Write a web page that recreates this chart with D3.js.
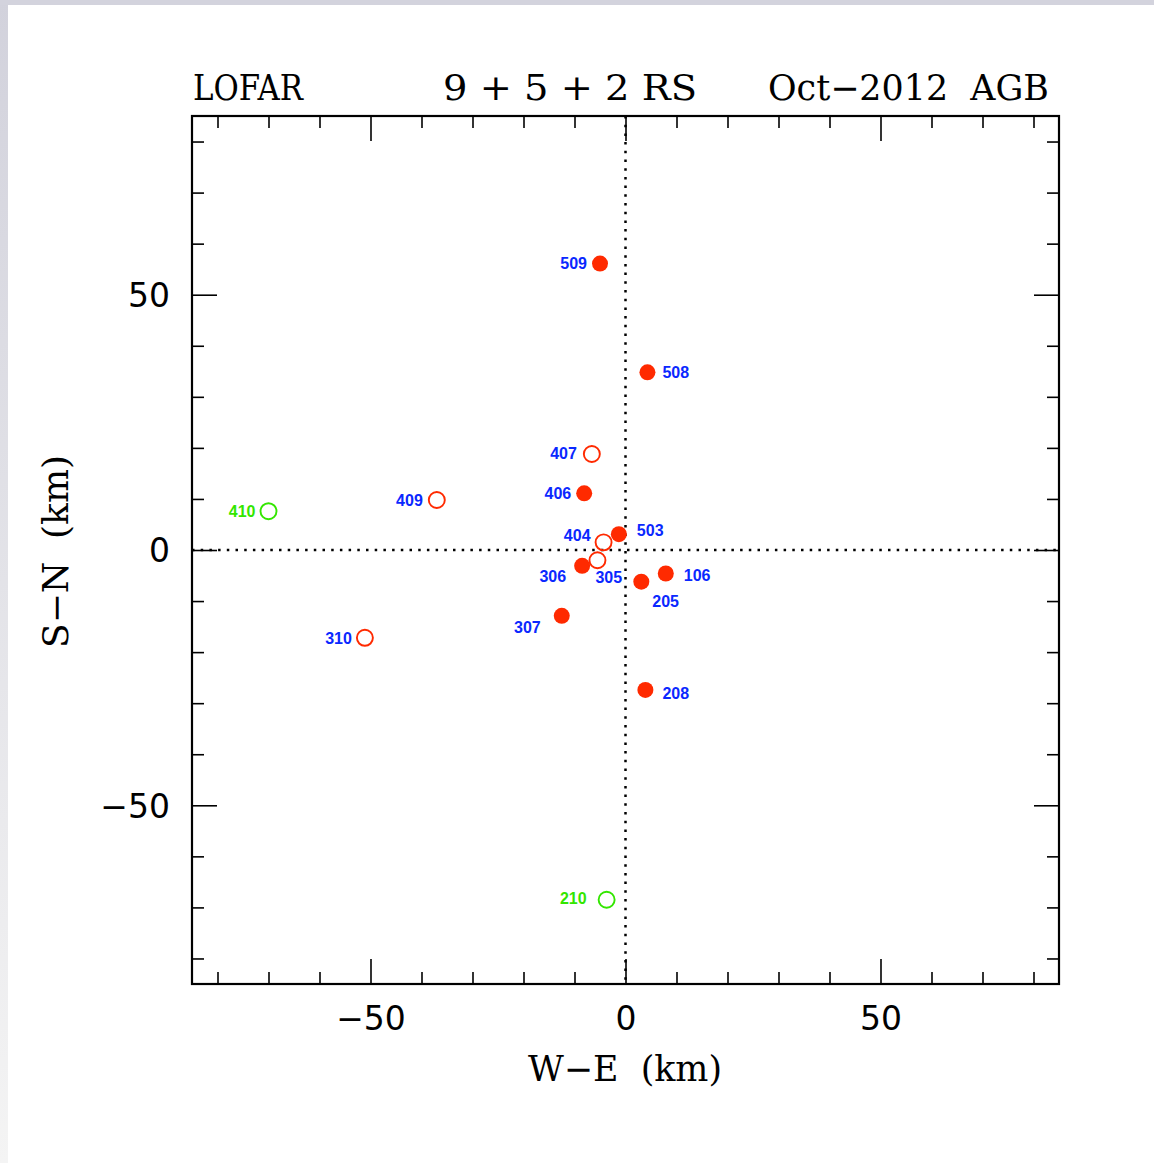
<!DOCTYPE html>
<html>
<head>
<meta charset="utf-8">
<script src="https://cdn.jsdelivr.net/npm/d3@7"></script>
<style>
  html, body { margin: 0; padding: 0; background: #fff; }
  svg { display: block; }
</style>
</head>
<body>
<svg id="chart"></svg>
<script>
// station data (km from the LOFAR core)
var stations = ['509', '508', '407', '406', '409', '410', '503', '404', '305', '306', '205', '106', '307', '310', '208', '210'];
var weKm = [-5.0, 4.3, -6.6, -8.1, -37.0, -70.0, -1.3, -4.3, -5.5, -8.5, 3.1, 7.9, -12.5, -51.1, 3.9, -3.7];
var snKm = [56.1, 34.8, 18.8, 11.1, 9.8, 7.6, 3.1, 1.5, -2.0, -3.1, -6.2, -4.6, -12.9, -17.2, -27.4, -68.5];
// 'done' = filled red, 'open' = open red, 'new' = open green
var stationKind = ['done', 'done', 'open', 'done', 'open', 'new', 'done', 'open', 'open', 'done', 'done', 'done', 'done', 'open', 'done', 'new'];

var titleParts = ['LOFAR', '9 + 5 + 2 RS', 'Oct\u22122012  AGB'];
var majorTicks = [-50, 0, 50];
var minorTicks = [-80, -70, -60, -40, -30, -20, -10, 10, 20, 30, 40, 60, 70, 80];

var W = 1154, H = 1163;
var box = {left: 192, right: 1059, top: 116, bottom: 984};

var svg = d3.select('#chart')
	.attr('width', W)
	.attr('height', H);

// screenshot frame
svg.append('rect').attr('x', 0).attr('y', 0).attr('width', W).attr('height', H).attr('fill', '#fff');
var grad = svg.append('defs').append('linearGradient')
	.attr('id', 'edge').attr('x1', 0).attr('y1', 0).attr('x2', 0).attr('y2', 1);
grad.append('stop').attr('offset', '0%').attr('stop-color', '#d2d2dc');
grad.append('stop').attr('offset', '100%').attr('stop-color', '#f4f4f4');
svg.append('rect').attr('x', 0).attr('y', 0).attr('width', 8).attr('height', H).attr('fill', 'url(#edge)');
svg.append('rect').attr('x', 0).attr('y', 0).attr('width', W).attr('height', 5).attr('fill', '#d3d3dd');

var x = d3.scaleLinear().domain([-85, 85]).range([box.left, box.right]);
var y = d3.scaleLinear().domain([-85, 85]).range([box.bottom, box.top]);

// dotted zero lines
svg.append('line')
	.attr('x1', x(0)).attr('x2', x(0)).attr('y1', box.top).attr('y2', box.bottom)
	.attr('stroke', '#000').attr('stroke-width', 2.5).attr('stroke-dasharray', '2.5,6.2');
svg.append('line')
	.attr('x1', box.left).attr('x2', box.right).attr('y1', y(0)).attr('y2', y(0))
	.attr('stroke', '#000').attr('stroke-width', 2.5).attr('stroke-dasharray', '2.5,6.2');

// ticks on all four sides, pointing inward
function addAxis(axisFn, scale, transform, values, len, labels) {
	var g = svg.append('g')
		.attr('transform', transform)
		.call(axisFn(scale).tickValues(values).tickSizeInner(-len).tickSizeOuter(0)
			.tickFormat(labels ? function (d) { return d < 0 ? '\u2212' + Math.abs(d) : d; } : ''));
	g.select('.domain').remove();
	g.selectAll('.tick line').attr('stroke', '#000').attr('stroke-width', 1.6);
	return g;
}
var minorLen = 12, majorLen = 25;
addAxis(d3.axisBottom, x, 'translate(0,' + box.bottom + ')', minorTicks, minorLen, false);
addAxis(d3.axisTop, x, 'translate(0,' + box.top + ')', minorTicks, minorLen, false);
addAxis(d3.axisLeft, y, 'translate(' + box.left + ',0)', minorTicks, minorLen, false);
addAxis(d3.axisRight, y, 'translate(' + box.right + ',0)', minorTicks, minorLen, false);
addAxis(d3.axisTop, x, 'translate(0,' + box.top + ')', majorTicks, majorLen, false);
addAxis(d3.axisRight, y, 'translate(' + box.right + ',0)', majorTicks, majorLen, false);

var xb = addAxis(d3.axisBottom, x, 'translate(0,' + box.bottom + ')', majorTicks, majorLen, true);
xb.selectAll('.tick text')
	.attr('y', 0).attr('dy', 0)
	.attr('transform', 'translate(0,46)')
	.attr('font-family', 'DejaVu Sans').attr('font-size', 33).attr('fill', '#000');
var yl = addAxis(d3.axisLeft, y, 'translate(' + box.left + ',0)', majorTicks, majorLen, true);
yl.selectAll('.tick text')
	.attr('x', 0).attr('dy', '0.36em')
	.attr('transform', 'translate(-22,0)')
	.attr('font-family', 'DejaVu Sans').attr('font-size', 33).attr('fill', '#000');

// frame
svg.append('rect')
	.attr('x', box.left).attr('y', box.top)
	.attr('width', box.right - box.left).attr('height', box.bottom - box.top)
	.attr('fill', 'none').attr('stroke', '#000').attr('stroke-width', 2.2);

// title pieces
var titleSpans = [[193, 110], [443, 254], [768, 281]];
svg.selectAll('text.title')
	.data(titleParts)
	.enter().append('text')
	.attr('class', 'title')
	.attr('x', function (d, i) { return titleSpans[i][0]; })
	.attr('y', 100)
	.attr('textLength', function (d, i) { return titleSpans[i][1]; })
	.attr('lengthAdjust', 'spacingAndGlyphs')
	.attr('font-family', 'DejaVu Serif').attr('font-size', 35)
	.attr('fill', '#000')
	.style('white-space', 'pre')
	.text(function (d) { return d; });

svg.append('text')
	.attr('x', 528).attr('y', 1081)
	.attr('textLength', 194).attr('lengthAdjust', 'spacingAndGlyphs')
	.attr('font-family', 'DejaVu Serif').attr('font-size', 35).attr('fill', '#000')
	.style('white-space', 'pre')
	.text('W\u2212E  (km)');

svg.append('text')
	.attr('transform', 'translate(68,648) rotate(-90)')
	.attr('textLength', 193).attr('lengthAdjust', 'spacingAndGlyphs')
	.attr('font-family', 'DejaVu Serif').attr('font-size', 35).attr('fill', '#000')
	.style('white-space', 'pre')
	.text('S\u2212N  (km)');

// stations
var red = '#ff2a00', green = '#33e600', blue = '#0a28ff';
var pts = stations.map(function (s, i) {
	return {name: s, we: weKm[i], sn: snKm[i], kind: stationKind[i]};
});

svg.selectAll('circle.stn')
	.data(pts)
	.enter().append('circle')
	.attr('class', 'stn')
	.attr('cx', function (d) { return x(d.we); })
	.attr('cy', function (d) { return y(d.sn); })
	.attr('r', 8)
	.attr('fill', function (d) { return d.kind === 'done' ? red : 'none'; })
	.attr('stroke', function (d) { return d.kind === 'new' ? green : red; })
	.attr('stroke-width', function (d) { return d.kind === 'done' ? 0 : 1.9; });

// label placement relative to marker (px): [dx, dy, anchor]
var place = {
	'509': [-13, 0, 'end'], '508': [15, 0, 'start'], '407': [-15, -1, 'end'],
	'406': [-13, 0, 'end'], '409': [-14, 0, 'end'], '410': [-13, 0, 'end'],
	'503': [18, -4, 'start'], '404': [-13, -7, 'end'], '305': [-2, 17, 'start'],
	'306': [-16, 10, 'end'], '205': [11, 20, 'start'], '106': [18, 2, 'start'],
	'307': [-21, 11, 'end'], '310': [-13, 0, 'end'], '208': [17, 3, 'start'],
	'210': [-20, -2, 'end']
};

svg.selectAll('text.lbl')
	.data(pts)
	.enter().append('text')
	.attr('class', 'lbl')
	.attr('x', function (d) { return x(d.we) + place[d.name][0]; })
	.attr('y', function (d) { return y(d.sn) + place[d.name][1]; })
	.attr('dy', '0.36em')
	.attr('text-anchor', function (d) { return place[d.name][2]; })
	.attr('font-family', 'Liberation Sans').attr('font-weight', 'bold').attr('font-size', 16)
	.attr('fill', function (d) { return d.kind === 'new' ? green : blue; })
	.text(function (d) { return d.name; });
</script>
</body>
</html>
